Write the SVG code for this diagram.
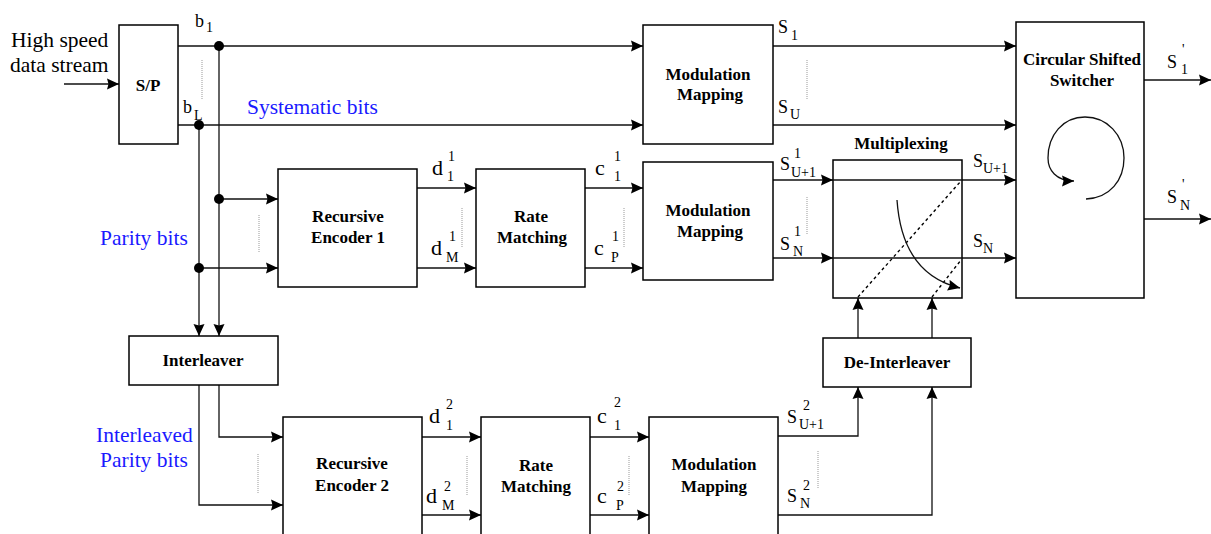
<svg xmlns="http://www.w3.org/2000/svg" width="1211" height="534" viewBox="0 0 1211 534">
<defs>
<marker id="ah" viewBox="0 0 12 12" refX="12" refY="6" markerWidth="12" markerHeight="12" orient="auto" markerUnits="userSpaceOnUse">
<path d="M0,0.5 L12,6 L0,11.5 L1.5,6 z" fill="#000"/>
</marker>
<style>
.box{fill:#fff;stroke:#000;stroke-width:1.5}
.lbl{font-family:"Liberation Serif","Times New Roman",serif;font-weight:bold;font-size:17px;fill:#000;text-anchor:middle}
.t{font-family:"Liberation Serif","Times New Roman",serif;fill:#000}
.big{font-size:21.5px}
.blue{font-family:"Liberation Serif","Times New Roman",serif;font-size:21.5px;fill:#1a1aff}
.s{font-size:18px}
.d{font-size:22px}
.sub{font-size:14px}
.ln{fill:none;stroke:#111;stroke-width:1.3}
.arr{fill:none;stroke:#111;stroke-width:1.3;marker-end:url(#ah)}
.dot{fill:none;stroke:#999;stroke-width:1;stroke-dasharray:1,1}
.dash{fill:none;stroke:#000;stroke-width:1.4;stroke-dasharray:3,3}
</style>
</defs>
<rect width="1211" height="534" fill="#fff"/>

<g id="connectors">
<path class="arr" d="M64,84 H119"/>
<path class="arr" d="M178,46 H643"/>
<path class="arr" d="M178,125 H643"/>
<path class="arr" d="M219,46 V336"/>
<path class="arr" d="M199,125 V336"/>
<path class="arr" d="M219,199 H278"/>
<path class="arr" d="M199,268 H278"/>
<path class="arr" d="M219,385 V437 H283"/>
<path class="arr" d="M199,385 V505 H283"/>
<path class="arr" d="M417,188 H476"/>
<path class="arr" d="M417,268 H476"/>
<path class="arr" d="M585,188 H643"/>
<path class="arr" d="M585,268 H643"/>
<path class="arr" d="M773,46 H1016"/>
<path class="arr" d="M773,125 H1016"/>
<path class="arr" d="M773,180 H833"/>
<path class="arr" d="M773,258 H833"/>
<path class="arr" d="M962,180 H1016"/>
<path class="arr" d="M962,258 H1016"/>
<path class="arr" d="M1144,80 H1211"/>
<path class="arr" d="M1144,219 H1211"/>
<path class="arr" d="M422,437 H481"/>
<path class="arr" d="M422,515 H481"/>
<path class="arr" d="M590,437 H649"/>
<path class="arr" d="M590,515 H649"/>
<path class="arr" d="M778,436 H858 V387"/>
<path class="arr" d="M778,515 H932 V387"/>
<path class="arr" d="M858,338 V298"/>
<path class="arr" d="M932,338 V298"/>
<circle cx="219" cy="46" r="5" fill="#000"/>
<circle cx="199" cy="125" r="5" fill="#000"/>
<circle cx="219" cy="199" r="5" fill="#000"/>
<circle cx="199" cy="268" r="5" fill="#000"/>
<path class="dot" d="M202,60 V99"/>
<path class="dot" d="M259,215 V253"/>
<path class="dot" d="M258,454 V493"/>
<path class="dot" d="M462,208 V247"/>
<path class="dot" d="M624,208 V247"/>
<path class="dot" d="M807,60 V99"/>
<path class="dot" d="M807,197 V235"/>
<path class="dot" d="M467,456 V495"/>
<path class="dot" d="M629,456 V495"/>
<path class="dot" d="M818,451 V489"/>
</g>

<g id="labels">
<text class="t big" x="11" y="47">High speed</text>
<text class="t big" x="10" y="72">data stream</text>
<text class="blue" x="247" y="114">Systematic bits</text>
<text class="blue" x="100" y="245">Parity bits</text>
<text class="blue" x="96" y="442">Interleaved</text>
<text class="blue" x="100" y="467">Parity bits</text>
<text class="t s" x="195" y="27">b</text><text class="t sub" x="206" y="32">1</text>
<text class="t s" x="183" y="113">b</text><text class="t sub" x="194" y="120">L</text>
<text class="t d" x="432" y="175">d</text><text class="t sub" x="448" y="161">1</text><text class="t sub" x="447" y="181">1</text>
<text class="t d" x="431" y="255">d</text><text class="t sub" x="449" y="241">1</text><text class="t sub" x="446" y="262">M</text>
<text class="t d" x="595" y="175">c</text><text class="t sub" x="614" y="161">1</text><text class="t sub" x="614" y="181">1</text>
<text class="t d" x="594" y="255">c</text><text class="t sub" x="612" y="241">1</text><text class="t sub" x="611" y="262">P</text>
<text class="t d" x="429" y="423">d</text><text class="t sub" x="446" y="409">2</text><text class="t sub" x="446" y="430">1</text>
<text class="t d" x="426" y="503">d</text><text class="t sub" x="444" y="491">2</text><text class="t sub" x="442" y="510">M</text>
<text class="t d" x="597" y="423">c</text><text class="t sub" x="614" y="407">2</text><text class="t sub" x="614" y="430">1</text>
<text class="t d" x="597" y="503">c</text><text class="t sub" x="617" y="491">2</text><text class="t sub" x="616" y="510">P</text>
<text class="t s" x="778" y="33">S</text><text class="t sub" x="791" y="40">1</text>
<text class="t s" x="778" y="113">S</text><text class="t sub" x="790" y="119">U</text>
<text class="t s" x="780" y="170">S</text><text class="t sub" x="794" y="158">1</text><text class="t sub" x="791" y="177">U+1</text>
<text class="t s" x="780" y="250">S</text><text class="t sub" x="794" y="236">1</text><text class="t sub" x="793" y="256">N</text>
<text class="t s" x="973" y="167">S</text><text class="t sub" x="983" y="173">U+1</text>
<text class="t s" x="973" y="247">S</text><text class="t sub" x="983" y="253">N</text>
<text class="t s" x="1167" y="68">S</text><text class="t sub" x="1182" y="54">'</text><text class="t sub" x="1181" y="74">1</text>
<text class="t s" x="1167" y="203">S</text><text class="t sub" x="1182" y="189">'</text><text class="t sub" x="1180" y="210">N</text>
<text class="t s" x="787" y="423">S</text><text class="t sub" x="803" y="410">2</text><text class="t sub" x="799" y="429">U+1</text>
<text class="t s" x="787" y="502">S</text><text class="t sub" x="803" y="490">2</text><text class="t sub" x="800" y="508">N</text>
</g>

<g id="sp"><rect class="box" x="119" y="25" width="59" height="119"/><text class="lbl" x="148" y="91">S/P</text></g>
<g id="mod1"><rect class="box" x="643" y="25" width="130" height="119"/><text class="lbl" x="708" y="80">Modulation</text><text class="lbl" x="710" y="100">Mapping</text></g>
<g id="enc1"><rect class="box" x="278" y="169" width="139" height="118"/><text class="lbl" x="348" y="222">Recursive</text><text class="lbl" x="348" y="243">Encoder 1</text></g>
<g id="rate1"><rect class="box" x="476" y="169" width="109" height="118"/><text class="lbl" x="531" y="222">Rate</text><text class="lbl" x="532" y="243">Matching</text></g>
<g id="mod2"><rect class="box" x="643" y="162" width="130" height="118"/><text class="lbl" x="708" y="216">Modulation</text><text class="lbl" x="710" y="237">Mapping</text></g>
<g id="mux">
<text class="lbl" x="901" y="149">Multiplexing</text>
<rect class="box" x="833" y="160" width="129" height="138"/>
<path class="ln" d="M833,180 H962 M833,258 H962"/>
<path class="dash" d="M858,297 L961,181 M932,297 L961,260"/>
<path class="arr" d="M897,200 Q902,274 960,288"/>
</g>
<g id="switcher">
<rect class="box" x="1016" y="22" width="128" height="276"/>
<text class="lbl" x="1082" y="65">Circular Shifted</text>
<text class="lbl" x="1082" y="86">Switcher</text>
<path class="arr" d="M1086,199 C1110,198 1124,180 1124,158 C1124,135 1107,117 1085,117 C1063,117 1048,135 1048,158 C1048,170 1056,181 1074,181"/>
</g>
<g id="interleaver"><rect class="box" x="129" y="336" width="149" height="49"/><text class="lbl" x="203" y="366">Interleaver</text></g>
<g id="deinterleaver"><rect class="box" x="823" y="338" width="148" height="49"/><text class="lbl" x="897" y="368">De-Interleaver</text></g>
<g id="enc2"><rect class="box" x="283" y="417" width="139" height="130"/><text class="lbl" x="352" y="469">Recursive</text><text class="lbl" x="352" y="491">Encoder 2</text></g>
<g id="rate2"><rect class="box" x="481" y="417" width="109" height="130"/><text class="lbl" x="536" y="471">Rate</text><text class="lbl" x="536" y="492">Matching</text></g>
<g id="mod3"><rect class="box" x="649" y="417" width="129" height="130"/><text class="lbl" x="714" y="470">Modulation</text><text class="lbl" x="714" y="492">Mapping</text></g>
</svg>
